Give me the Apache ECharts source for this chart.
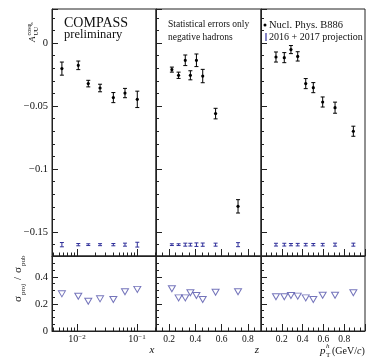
<!DOCTYPE html>
<html>
<head>
<meta charset="utf-8">
<script src="https://cdn.jsdelivr.net/npm/echarts@6/dist/echarts.min.js"></script>
<style>
html, body { margin: 0; padding: 0; background: #fff; }
#chart { width: 374px; height: 364px; }
</style>
</head>
<body>
<div id="chart"></div>
<script>
// x panel (log axis)
const xBins = [0.0056, 0.0105, 0.0154, 0.0242, 0.0403, 0.063, 0.101]
const xAsym = [-0.0203, -0.0177, -0.0322, -0.0357, -0.0433, -0.0397, -0.0447]
const xErr = [0.0052, 0.0034, 0.0026, 0.003, 0.004, 0.0037, 0.0065]
const xProjErr = [0.0017, 0.0009, 0.0007, 0.0008, 0.0009, 0.0012, 0.0019]
const xRatio = [0.275, 0.257, 0.22, 0.238, 0.233, 0.29, 0.308]

// z panel
const zBins = [0.221, 0.272, 0.323, 0.362, 0.408, 0.456, 0.554, 0.725]
const zAsym = [-0.0211, -0.0256, -0.0137, -0.0256, -0.0137, -0.0262, -0.056, -0.1296]
const zErr = [0.002, 0.0025, 0.0042, 0.0036, 0.005, 0.0053, 0.0042, 0.0053]
const zProjErr = [0.0007, 0.0007, 0.0012, 0.0011, 0.0014, 0.0013, 0.0012, 0.0016]
const zRatio = [0.313, 0.245, 0.245, 0.283, 0.263, 0.233, 0.287, 0.29]

// pT panel
const ptBins = [0.144, 0.224, 0.288, 0.353, 0.43, 0.503, 0.593, 0.712, 0.888]
const ptAsym = [-0.0111, -0.0116, -0.0052, -0.0106, -0.0322, -0.0354, -0.0468, -0.0513, -0.07]
const ptErr = [0.004, 0.004, 0.0032, 0.0037, 0.004, 0.004, 0.004, 0.0044, 0.004]
const ptProjErr = [0.0011, 0.0011, 0.0009, 0.001, 0.001, 0.0009, 0.001, 0.0012, 0.0012]
const ptRatio = [0.253, 0.253, 0.263, 0.258, 0.245, 0.233, 0.265, 0.265, 0.283]

// projection points are drawn at a fixed level
const projLevel = -0.16

const font = 'Liberation Serif'
const ink = '#111'
const axisInk = '#222'
const blue = '#30309a'
const triBlue = '#5252aa'

const panels = [
  { bins: xBins, asym: xAsym, err: xErr, proj: xProjErr, ratio: xRatio },
  { bins: zBins, asym: zAsym, err: zErr, proj: zProjErr, ratio: zRatio },
  { bins: ptBins, asym: ptAsym, err: ptErr, proj: ptProjErr, ratio: ptRatio }
]

const panelLeft = [52, 156, 261]
const panelWidth = [104, 105, 104]

function errorBar(color, dot) {
  return function (params, api) {
    const x = api.value(0)
    const y = api.value(1)
    const e = api.value(2)
    const c = api.coord([x, y])
    const hi = api.coord([x, y + e])
    const lo = api.coord([x, y - e])
    const st = { stroke: color, lineWidth: 1 }
    const children = [
      { type: 'line', shape: { x1: c[0], y1: hi[1], x2: c[0], y2: lo[1] }, style: st },
      { type: 'line', shape: { x1: c[0] - 2, y1: hi[1], x2: c[0] + 2, y2: hi[1] }, style: st },
      { type: 'line', shape: { x1: c[0] - 2, y1: lo[1], x2: c[0] + 2, y2: lo[1] }, style: st }
    ]
    if (dot) {
      children.push({ type: 'circle', shape: { cx: c[0], cy: c[1], r: 1.6 }, style: { fill: color } })
    }
    return { type: 'group', children }
  }
}

const grids = []
panelLeft.forEach((l, i) => grids.push({ left: l, top: 9, width: panelWidth[i], height: 247 }))
panelLeft.forEach((l, i) => grids.push({ left: l, top: 256, width: panelWidth[i], height: 75 }))
grids.forEach(g => Object.assign(g, {
  show: true, borderColor: axisInk, borderWidth: 1, backgroundColor: 'transparent',
  containLabel: false, outerBoundsMode: 'none'
}))

const supDigits = v => {
  const p = Math.round(Math.log10(v))
  return '{b|10}{e|' + (p < 0 ? '\u2212' : '') + Math.abs(p) + '}'
}

function xAxisFor(i, showLabels) {
  const a = {
    gridIndex: showLabels ? i + 3 : i,
    position: 'bottom',
    axisLine: { onZero: false, lineStyle: { color: axisInk, width: 1 } },
    axisTick: { inside: true, length: 7, lineStyle: { color: axisInk } },
    minorTick: { show: true, length: 3.5, splitNumber: 4, lineStyle: { color: axisInk } },
    splitLine: { show: false },
    axisLabel: {
      show: showLabels, margin: 3, color: ink, fontFamily: font, fontSize: 9.5,
      showMinLabel: false, showMaxLabel: false
    }
  }
  if (i === 0) {
    Object.assign(a, { type: 'log', logBase: 10, min: 0.00383, max: 0.207 })
    a.minorTick.splitNumber = 9
    a.axisLabel.formatter = supDigits
    a.axisLabel.rich = {
      b: { fontFamily: font, fontSize: 10, color: ink, verticalAlign: 'bottom' },
      e: { fontFamily: font, fontSize: 7, color: ink, verticalAlign: 'top' }
    }
  } else if (i === 1) {
    Object.assign(a, { type: 'value', min: 0.1, max: 0.9 })
  } else {
    Object.assign(a, { type: 'value', min: 0, max: 1, interval: 0.2 })
  }
  return a
}

function yAxisFor(i, bottom) {
  const a = {
    type: 'value',
    gridIndex: bottom ? i + 3 : i,
    position: 'left',
    axisLine: { show: true, onZero: false, lineStyle: { color: axisInk, width: 1 } },
    axisTick: { show: true, inside: true, length: 6, lineStyle: { color: axisInk } },
    minorTick: { show: true, length: 3, lineStyle: { color: axisInk } },
    splitLine: { show: false },
    axisLabel: {
      show: i === 0, margin: 4, color: ink, fontFamily: font, fontSize: 10.5,
      showMinLabel: bottom, showMaxLabel: false
    }
  }
  if (bottom) {
    Object.assign(a, { min: 0, max: 0.555, interval: 0.2 })
    a.minorTick.splitNumber = 4
    a.axisLabel.formatter = v => (Math.abs(v) < 1e-9 ? '0' : String(+v.toFixed(2)))
  } else {
    Object.assign(a, { min: -0.169, max: 0.027, splitNumber: 4, minInterval: 0.05, maxInterval: 0.05 })
    a.minorTick.splitNumber = 5
    a.axisLabel.formatter = v => (Math.abs(v) < 1e-9 ? '0' : (v < 0 ? '\u2212' : '') + String(+Math.abs(v).toFixed(3)))
  }
  return a
}

const xAxes = [0, 1, 2].map(i => xAxisFor(i, false)).concat([0, 1, 2].map(i => xAxisFor(i, true)))
const yAxes = [0, 1, 2].map(i => yAxisFor(i, false)).concat([0, 1, 2].map(i => yAxisFor(i, true)))

const series = []
panels.forEach((p, i) => {
  series.push({
    type: 'custom', xAxisIndex: i, yAxisIndex: i,
    renderItem: errorBar('#000', true),
    encode: { x: 0, y: 1 },
    data: p.bins.map((b, k) => [b, p.asym[k], p.err[k]])
  })
  series.push({
    type: 'custom', xAxisIndex: i, yAxisIndex: i,
    renderItem: errorBar(blue, false),
    encode: { x: 0, y: 1 },
    data: p.bins.map((b, k) => [b, projLevel, p.proj[k]])
  })
  series.push({
    type: 'scatter', xAxisIndex: i + 3, yAxisIndex: i + 3,
    symbol: 'triangle', symbolRotate: 180, symbolSize: [7, 6],
    itemStyle: { color: 'transparent', borderColor: triBlue, borderWidth: 1 },
    emphasis: { disabled: true },
    data: p.bins.map((b, k) => [b, p.ratio[k]])
  })
})

const txt = (text, x, y, size, extra) => ({
  type: 'text', x, y, silent: true,
  style: Object.assign({ text, fill: ink, font: size + 'px "' + font + '"', align: 'left', verticalAlign: 'middle' }, extra || {})
})

const graphic = [
  txt('COMPASS', 64, 23, 14),
  txt('preliminary', 64, 35, 12.5),
  txt('Statistical errors only', 168, 24, 9.5),
  txt('negative hadrons', 168, 37, 9.5),
  { type: 'circle', shape: { cx: 265, cy: 25, r: 1.5 }, style: { fill: '#000' }, silent: true },
  txt('Nucl. Phys. B886', 269, 25, 10.5),
  { type: 'line', shape: { x1: 266, y1: 33, x2: 266, y2: 41 }, style: { stroke: blue, lineWidth: 1.2 }, silent: true },
  txt('2016 + 2017 projection', 269, 37, 10),
  // axis titles
  txt('x', 152, 350, 11, { font: 'italic 11px "' + font + '"', align: 'center' }),
  txt('z', 257, 350, 11, { font: 'italic 11px "' + font + '"', align: 'center' }),
  txt('p', 320, 351, 11, { font: 'italic 11px "' + font + '"' }),
  txt('T', 326, 355, 7),
  txt('h', 326, 346, 7, { font: 'italic 7px "' + font + '"' }),
  {
    type: 'text', x: 332, y: 351, silent: true,
    style: {
      text: '{n|(GeV/}{i|c}{n|)}', verticalAlign: 'middle', align: 'left',
      rich: {
        n: { fontFamily: font, fontSize: 10, fill: ink },
        i: { fontFamily: font, fontSize: 10, fontStyle: 'italic', fill: ink }
      }
    }
  },
  {
    type: 'group', x: 37, y: 42, rotation: Math.PI / 2, silent: true,
    children: [
      txt('A', 0, 0, 9, { font: 'italic 9px "' + font + '"', verticalAlign: 'bottom' }),
      txt('UU', 6.5, 2.5, 6, { verticalAlign: 'bottom' }),
      txt('cos\u03c6', 6.5, -4.5, 6, { verticalAlign: 'bottom' }),
      txt('h', 17, -3, 5, { verticalAlign: 'bottom' })
    ]
  },
  {
    type: 'group', x: 24, y: 302, rotation: Math.PI / 2, silent: true,
    children: [
      txt('\u03c3', 0, 0, 11, { verticalAlign: 'bottom' }),
      txt('proj', 7, 3, 7, { verticalAlign: 'bottom' }),
      txt('/', 22, 0, 11, { verticalAlign: 'bottom' }),
      txt('\u03c3', 29, 0, 11, { verticalAlign: 'bottom' }),
      txt('pub', 36, 3, 7, { verticalAlign: 'bottom' })
    ]
  }
]

const chart = echarts.init(document.getElementById('chart'), null, { renderer: 'canvas' })
chart.setOption({
  animation: false,
  backgroundColor: '#fff',
  grid: grids,
  xAxis: xAxes,
  yAxis: yAxes,
  series,
  graphic
})
</script>
</body>
</html>
